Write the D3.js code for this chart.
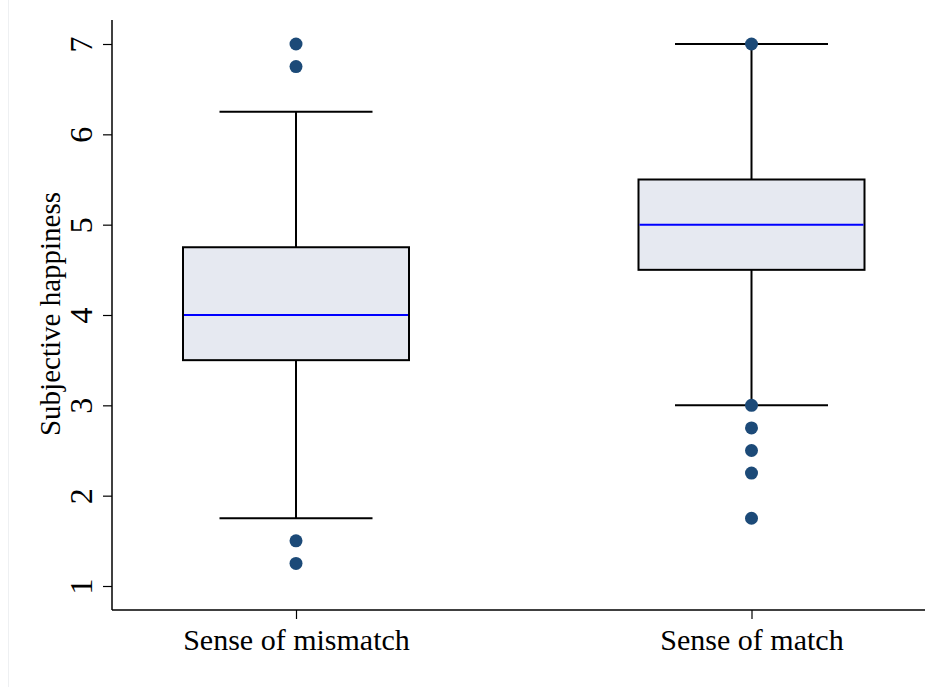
<!DOCTYPE html>
<html>
<head>
<meta charset="utf-8">
<script src="https://cdn.jsdelivr.net/npm/d3@7"></script>
<style>
  body { margin: 0; background: #fff; }
  text { font-family: "Liberation Serif", "Times New Roman", serif; fill: #000; }
</style>
</head>
<body>
<div id="chart"></div>
<script>
const categories = ["Sense of mismatch", "Sense of match"];
const q1 = [3.5, 4.5];
const medians = [4, 5];
const q3 = [4.75, 5.5];
const whiskerLow = [1.75, 3];
const whiskerHigh = [6.25, 7];
const outliers = [
  [7, 6.75, 1.5, 1.25],
  [7, 3, 2.75, 2.5, 2.25, 1.75]
];
const yTicks = [1, 2, 3, 4, 5, 6, 7];

const W = 925, H = 687;
const serif = '"Liberation Serif", "Times New Roman", serif';
const svg = d3.select("#chart").append("svg")
  .attr("width", W).attr("height", H);

// faint frame line at left
svg.append("line")
  .attr("x1", 8.5).attr("x2", 8.5).attr("y1", 0).attr("y2", H)
  .attr("stroke", "#eef0f2").attr("stroke-width", 1);

const x0 = 112, x1 = 925, yTop = 20, yBot = 610;

const y = d3.scaleLinear()
  .domain([0.7343, 7.2657])
  .range([yBot, yTop]);

const x = d3.scalePoint()
  .domain(categories)
  .range([296, 751.5]);

// y axis
const yAxis = svg.append("g")
  .attr("transform", "translate(" + x0 + ",0)")
  .call(d3.axisLeft(y).tickValues(yTicks).tickSize(9).tickPadding(0).tickFormat(d3.format("d")));
yAxis.attr("font-family", null).attr("font-size", null);
yAxis.select(".domain").attr("d", "M0," + yTop + "V" + yBot).attr("stroke", "#000").attr("stroke-width", 1.5);
yAxis.selectAll(".tick line").attr("stroke", "#000").attr("stroke-width", 1.2);
yAxis.selectAll(".tick text")
  .style("font-family", serif)
  .style("font-size", "32px")
  .attr("text-anchor", "middle")
  .attr("x", null)
  .attr("transform", "translate(-20,0) rotate(-90)")
  .attr("dy", "0");

// x axis
const xAxis = svg.append("g")
  .attr("transform", "translate(0," + yBot + ")")
  .call(d3.axisBottom(x).tickSize(9).tickPadding(9));
xAxis.attr("font-family", null).attr("font-size", null);
xAxis.select(".domain").attr("d", "M" + x0 + ",0H" + x1).attr("stroke", "#000").attr("stroke-width", 1.5);
xAxis.selectAll(".tick line").attr("stroke", "#000").attr("stroke-width", 1.2);
xAxis.selectAll(".tick text")
  .style("font-family", serif)
  .style("font-size", "30px")
  .attr("dy", "0.72em");

// y label
svg.append("text")
  .attr("transform", "translate(60,314) rotate(-90)")
  .attr("text-anchor", "middle")
  .style("font-size", "29px")
  .text("Subjective happiness");

const boxW = 226, capW = 153;

const g = svg.append("g");
categories.forEach(function (c, i) {
  const cx = x(c);
  // whiskers
  g.append("line")
    .attr("x1", cx).attr("x2", cx)
    .attr("y1", y(whiskerHigh[i])).attr("y2", y(q3[i]))
    .attr("stroke", "#000").attr("stroke-width", 2);
  g.append("line")
    .attr("x1", cx).attr("x2", cx)
    .attr("y1", y(q1[i])).attr("y2", y(whiskerLow[i]))
    .attr("stroke", "#000").attr("stroke-width", 2);
  [whiskerHigh[i], whiskerLow[i]].forEach(function (v) {
    g.append("line")
      .attr("x1", cx - capW / 2).attr("x2", cx + capW / 2)
      .attr("y1", y(v)).attr("y2", y(v))
      .attr("stroke", "#000").attr("stroke-width", 2);
  });
  // box
  g.append("rect")
    .attr("x", cx - boxW / 2)
    .attr("y", y(q3[i]))
    .attr("width", boxW)
    .attr("height", y(q1[i]) - y(q3[i]))
    .attr("fill", "#e6e9f1")
    .attr("stroke", "#000").attr("stroke-width", 2);
  g.append("line")
    .attr("x1", cx - boxW / 2 + 1).attr("x2", cx + boxW / 2 - 1)
    .attr("y1", y(medians[i])).attr("y2", y(medians[i]))
    .attr("stroke", "#0000ff").attr("stroke-width", 2);
  // outliers
  g.selectAll(".out" + i)
    .data(outliers[i])
    .enter().append("circle")
    .attr("cx", cx)
    .attr("cy", function (d) { return y(d); })
    .attr("r", 6.5)
    .attr("fill", "#1c4a78");
});
</script>
</body>
</html>
